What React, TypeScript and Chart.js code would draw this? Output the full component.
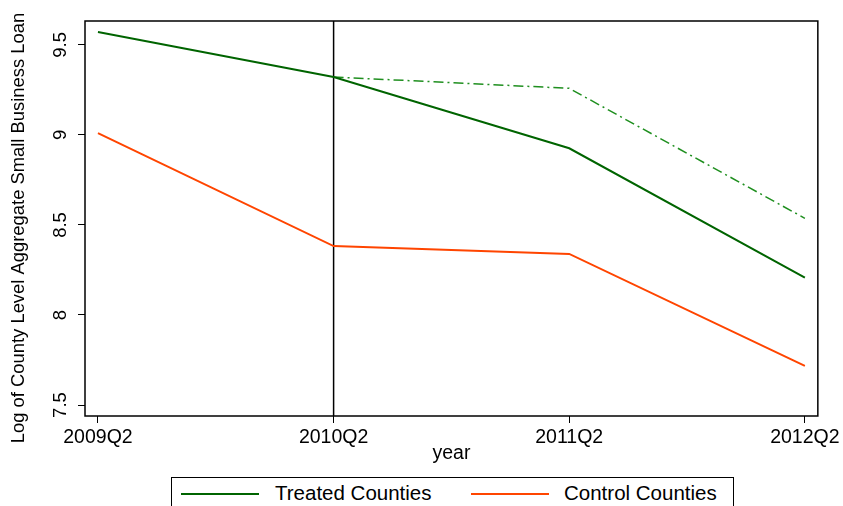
import React, { useEffect, useRef } from "react";
import { Chart, registerables } from "chart.js";

Chart.register(...registerables);

const categories = ["2009Q2", "2010Q2", "2011Q2", "2012Q2"];
const treated = [9.572, 9.322, 8.926, 8.207];
const control = [9.01, 8.383, 8.339, 7.717];
const counterfactual = [null, 9.322, 9.259, 8.537];
const yTicks = [7.5, 8, 8.5, 9, 9.5];
const seriesNames = ["Treated Counties", "Control Counties"];
const xTitle = "year";
const yTitle = "Log of County Level Aggregate Small Business Loan";
const eventIndex = 1;

const GREEN = "#006400";
const GREEN_DASH = "#1f8f1f";
const ORANGE = "#ff4500";
const FONT = "'Liberation Sans', Arial, sans-serif";

const framePlugin = {
  id: "frame",
  beforeDatasetsDraw(chart: any) {
    const { ctx, chartArea } = chart;
    const x = chart.scales.x.getPixelForValue(eventIndex);
    ctx.save();
    ctx.strokeStyle = "#000";
    ctx.lineWidth = 1.5;
    ctx.beginPath();
    ctx.moveTo(x, chartArea.top);
    ctx.lineTo(x, chartArea.bottom);
    ctx.stroke();
    ctx.restore();
  },
  afterDraw(chart: any) {
    const { ctx, chartArea } = chart;
    ctx.save();
    ctx.strokeStyle = "#000";
    ctx.lineWidth = 1.5;
    ctx.strokeRect(chartArea.left, chartArea.top, chartArea.right - chartArea.left, chartArea.bottom - chartArea.top);
    // y axis title
    ctx.translate(19, 228);
    ctx.rotate(-Math.PI / 2);
    ctx.fillStyle = "#000";
    ctx.font = `18.4px ${FONT}`;
    ctx.textAlign = "center";
    ctx.textBaseline = "middle";
    ctx.fillText(yTitle, 0, 0);
    ctx.restore();
  },
};

export default function App() {
  const ref = useRef<HTMLCanvasElement>(null);
  useEffect(() => {
    document.body.style.margin = "0";
    const toPts = (arr: (number | null)[]) => arr.map((v, i) => ({ x: i, y: v }));
    const chart = new Chart(ref.current!, {
      type: "line",
      data: {
        datasets: [
          { label: seriesNames[0], data: toPts(treated) as any, borderColor: GREEN, borderWidth: 2, pointRadius: 0, tension: 0 },
          { label: seriesNames[1], data: toPts(control) as any, borderColor: ORANGE, borderWidth: 2, pointRadius: 0, tension: 0 },
          { label: "counterfactual", data: toPts(counterfactual) as any, borderColor: GREEN_DASH, borderWidth: 1.5, borderDash: [10, 4, 2, 4], pointRadius: 0, tension: 0, spanGaps: false },
        ],
      },
      options: {
        responsive: false,
        animation: false,
        events: [],
        layout: { padding: { left: 0, top: 21, right: 24, bottom: 29 } },
        plugins: { legend: { display: false }, tooltip: { enabled: false } },
        scales: {
          x: {
            type: "linear",
            min: -0.055,
            max: 3.055,
            afterBuildTicks: (s: any) => { s.ticks = categories.map((_, i) => ({ value: i })); },
            afterFit: (s: any) => { s.height = 61; },
            ticks: { callback: (v: any) => categories[v], font: { family: FONT, size: 19.5 }, color: "#000", padding: 3, maxRotation: 0, autoSkip: false },
            grid: { drawOnChartArea: false, drawTicks: true, tickLength: 7, color: "#000", lineWidth: 1 },
            border: { display: false },
            title: { display: true, text: xTitle, font: { family: FONT, size: 19.5 }, color: "#000", padding: { top: 0, bottom: 12 } },
          },
          y: {
            type: "linear",
            min: 7.439,
            max: 9.633,
            afterBuildTicks: (s: any) => { s.ticks = yTicks.map((v) => ({ value: v })); },
            afterFit: (s: any) => { s.width = 85; },
            ticks: { callback: (v: any) => String(v), font: { family: FONT, size: 18.5 }, color: "#000", padding: 4, minRotation: 90, maxRotation: 90, crossAlign: "center" },
            grid: { drawOnChartArea: false, drawTicks: true, tickLength: 7, color: "#000", lineWidth: 1 },
            border: { display: false },
            title: { display: false },
          },
        },
      },
      plugins: [framePlugin],
    });
    return () => chart.destroy();
  }, []);

  const lineStyle = (left: number, color: string): React.CSSProperties => ({ position: "absolute", left, top: 15, width: 78, height: 2, background: color });
  const textStyle = (left: number): React.CSSProperties => ({ position: "absolute", left, top: 3, fontFamily: FONT, fontSize: 20.5, lineHeight: "24px", color: "#000", whiteSpace: "nowrap" });

  return (
    <div style={{ position: "relative", width: 843, height: 506, background: "#fff", overflow: "hidden" }}>
      <canvas ref={ref} width={843} height={506} style={{ display: "block" }} />
      <div style={{ position: "absolute", left: 171, top: 477, width: 561, height: 40, border: "1px solid #000", background: "#fff" }}>
        <div style={lineStyle(9, GREEN)} />
        <div style={textStyle(103)}>{seriesNames[0]}</div>
        <div style={lineStyle(299, ORANGE)} />
        <div style={textStyle(392)}>{seriesNames[1]}</div>
      </div>
    </div>
  );
}
